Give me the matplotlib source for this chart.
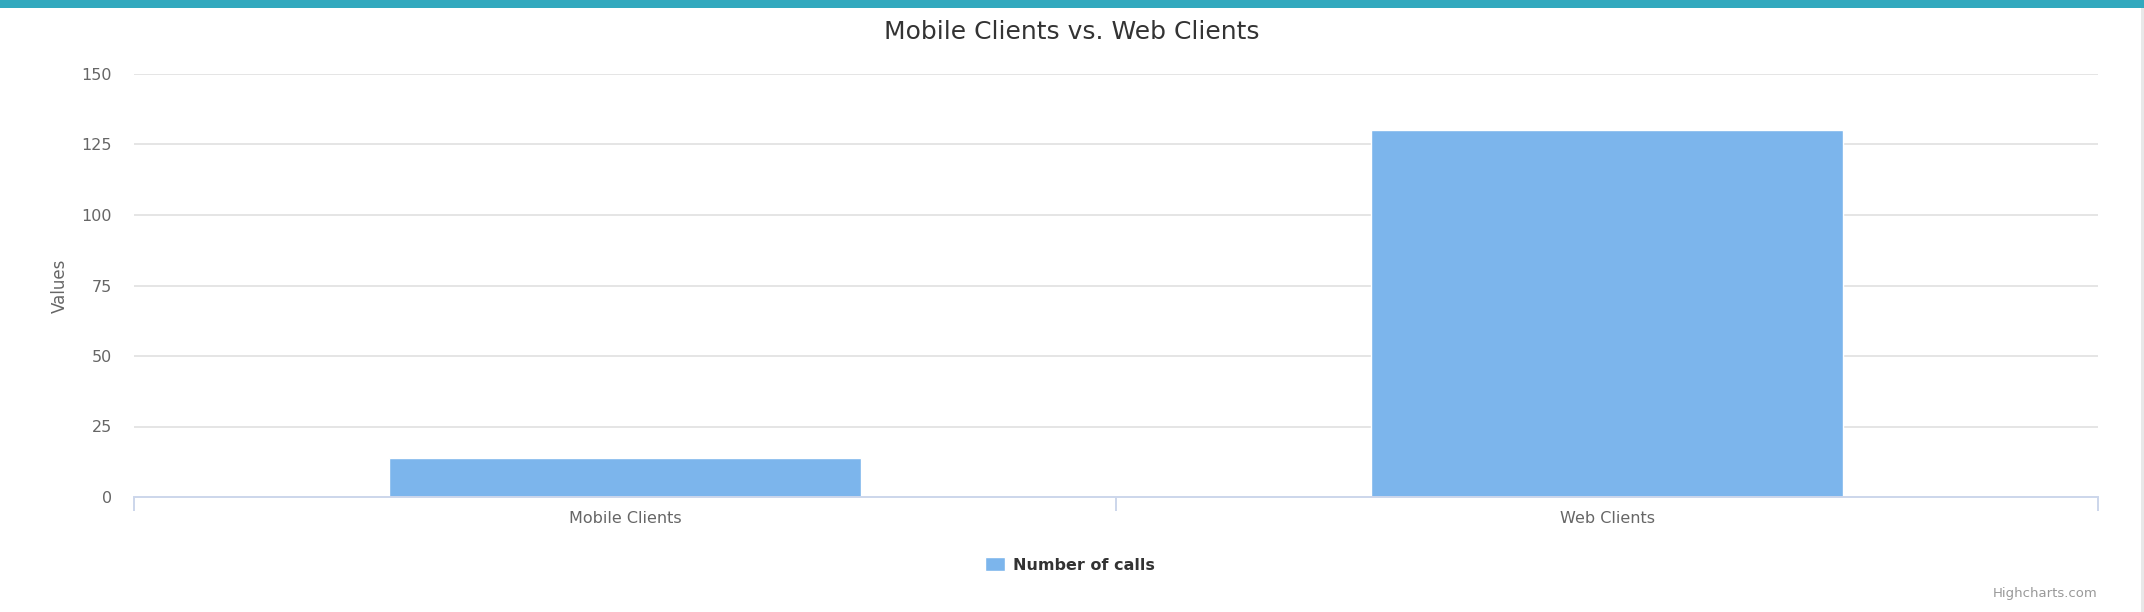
import matplotlib
matplotlib.use("Agg")
import matplotlib.pyplot as plt
from matplotlib.patches import Rectangle

categories = ["Mobile Clients", "Web Clients"]
series_name = "Number of calls"
values = [14, 130]
y_ticks = [0, 25, 50, 75, 100, 125, 150]

W, H, DPI = 2144, 612, 100
fig = plt.figure(figsize=(W / DPI, H / DPI), dpi=DPI)
fig.patch.set_facecolor("white")
plt.rcParams["font.family"] = ["DejaVu Sans"]

def px_x(x):
    return x / W

def px_y(y):
    return 1 - y / H

left, right, top, bottom = 134, 2098, 74, 497
ax = fig.add_axes([px_x(left), px_y(bottom), (right - left) / W, (bottom - top) / H])
ax.set_facecolor("white")

x = list(range(len(categories)))
bars = ax.bar(x, values, width=0.48, color="#7cb5ec", edgecolor="white",
              linewidth=1, label=series_name, zorder=3)

ax.set_xlim(-0.5, len(categories) - 0.5)
ax.set_ylim(y_ticks[0], y_ticks[-1])
ax.set_yticks(y_ticks)
ax.set_yticklabels([str(t) for t in y_ticks])
for t in y_ticks[1:]:
    ax.axhline(t, color="#e0e0e0", linewidth=1.2, zorder=1)

for s in ["top", "right", "left"]:
    ax.spines[s].set_visible(False)
ax.spines["bottom"].set_color("#ccd6eb")
ax.spines["bottom"].set_linewidth(1.4)
ax.spines["bottom"].set_zorder(4)

ax.tick_params(axis="y", length=0, pad=16, labelsize=11.5, labelcolor="#666666")
ax.set_xticks(x)
ax.set_xticklabels(categories)
ax.tick_params(axis="x", which="major", length=0, pad=10, labelsize=11.5, labelcolor="#666666")
ax.set_xticks([i - 0.5 for i in range(len(categories) + 1)], minor=True)
ax.tick_params(axis="x", which="minor", length=10, width=1.4, color="#ccd6eb")

ax.set_ylabel("Values", fontsize=12, color="#666666")
ax.yaxis.set_label_coords((69 - left) / (right - left), 0.5)

fig.text(0.5, px_y(32), "Mobile Clients vs. Web Clients", ha="center", va="center",
         fontsize=18, color="#333333")

fig.legend(handles=[bars], labels=[series_name], loc="center",
           bbox_to_anchor=(px_x(1070), px_y(565)), frameon=False,
           prop={"weight": "bold", "size": 11.5}, handlelength=1.3, handleheight=1.0,
           handletextpad=0.5, labelcolor="#333333")

fig.text(px_x(2097), px_y(593), "Highcharts.com", ha="right", va="center",
         fontsize=9.5, color="#999999")

fig.patches.append(Rectangle((0, px_y(8)), 1, 8 / H, transform=fig.transFigure,
                             facecolor="#32a9be", edgecolor="none", zorder=5))
fig.patches.append(Rectangle((px_x(2141), 0), 3 / W, px_y(8), transform=fig.transFigure,
                             facecolor="#e8e8e8", edgecolor="none", zorder=5))

fig.savefig("out.png", dpi=DPI, facecolor="white")
